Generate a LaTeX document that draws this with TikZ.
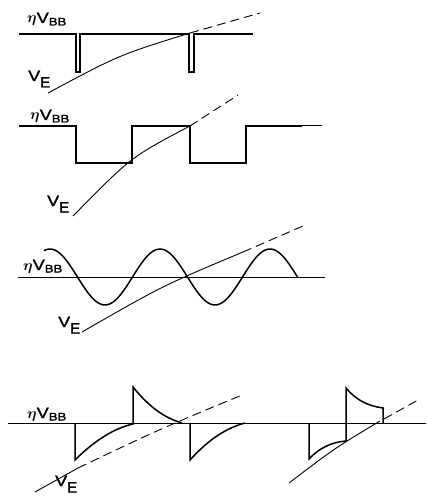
\documentclass[tikz,border=0pt]{standalone}
\usepackage{fix-cm}
\usepackage{amsmath}
\usepackage{amsbsy}
\usepackage{fontspec}
\setmainfont{Liberation Sans}
\newfontfamily\labfont{Liberation Sans}[FakeBold=1.5]
\usepackage{graphicx}
\newcommand{\etavbb}{{\labfont\fontsize{15}{15}\selectfont$\boldsymbol{\eta}$\scalebox{1.2}[1]{V}\raisebox{-2.5pt}{\fontsize{11}{11}\selectfont\scalebox{1.2}[1]{BB}}}}
\newcommand{\vesub}{{\labfont\fontsize{15}{15}\selectfont\scalebox{1.2}[1]{V}\raisebox{-6.5pt}{E}}}
\tikzset{
  wave/.style={line width=1.5pt, line join=miter, line cap=butt},
  baseline/.style={line width=1pt},
  veline/.style={line width=0.9pt},
  vedash/.style={line width=0.9pt, dash pattern=on 9pt off 5pt},
  lbl/.style={inner sep=0pt, anchor=base west}
}
\begin{document}
\begin{tikzpicture}[x=1pt,y=-1pt]
\useasboundingbox (0,0) rectangle (426,497);
% Panel 1
\draw[wave] (19,34) -- (76,34) -- (76,72) -- (80,72) -- (80,34) -- (189,34) -- (189,72) -- (194,72) -- (194,34) -- (253,34);
\draw[veline] (48,93) .. controls (119,55) .. (190,33);
\draw[vedash] (190,33) -- (260,13);
\node[lbl] (l1) at (27,23) {\etavbb};
\node[lbl] (v1) at (28,81) {\vesub};
% Panel 2
\draw[wave] (19,126) -- (76,126) -- (76,163) -- (132,163) -- (132,126) -- (190,126) -- (190,163) -- (246,163) -- (246,126) -- (302,126);
\draw[baseline] (302,126) -- (322,126);
\draw[veline] (73,216) .. controls (131,157) .. (190,126);
\draw[vedash] (190,126) -- (238,95);
\node[lbl] (l2) at (30,120) {\etavbb};
\node[lbl] (v2) at (47,206) {\vesub};
% Panel 3
\draw[baseline] (18,277) -- (325,277);
\draw[wave] plot[domain=44:297.5, samples=120, smooth] (\x, {277-28*cos(3.272727*(\x-160))});
\draw[veline] (82,332) .. controls (162,286) .. (243,252);
\draw[vedash] (243,252) -- (303,226);
\node[lbl] (l3) at (23,270) {\etavbb};
\node[lbl] (v3) at (58,327) {\vesub};
% Panel 4
\draw[baseline] (8,423) -- (426,423);
\draw[wave] (75,423) -- (75,460) .. controls (95,440) and (115,428) .. (133,424) -- (133,387) .. controls (150,408) and (165,418) .. (182,423);
\draw[wave] (190,423) -- (190,460) .. controls (208,440) and (226,428) .. (245,423);
\draw[wave] (309,423) -- (309,459) .. controls (318,449) and (331,442) .. (346,441) -- (346,388) .. controls (356,400) and (368,406) .. (383,408) -- (383,423);
\draw[veline] (35,492) -- (78,468);
\draw[vedash] (78,468) .. controls (160,429) .. (242,395);
\draw[veline] (289,483) .. controls (335,448) .. (380,421);
\draw[vedash] (384,419) -- (418,400);
\node[lbl] (l4) at (27,418) {\etavbb};
\node[lbl] (v4) at (55,486) {\vesub};
\end{tikzpicture}
\end{document}
